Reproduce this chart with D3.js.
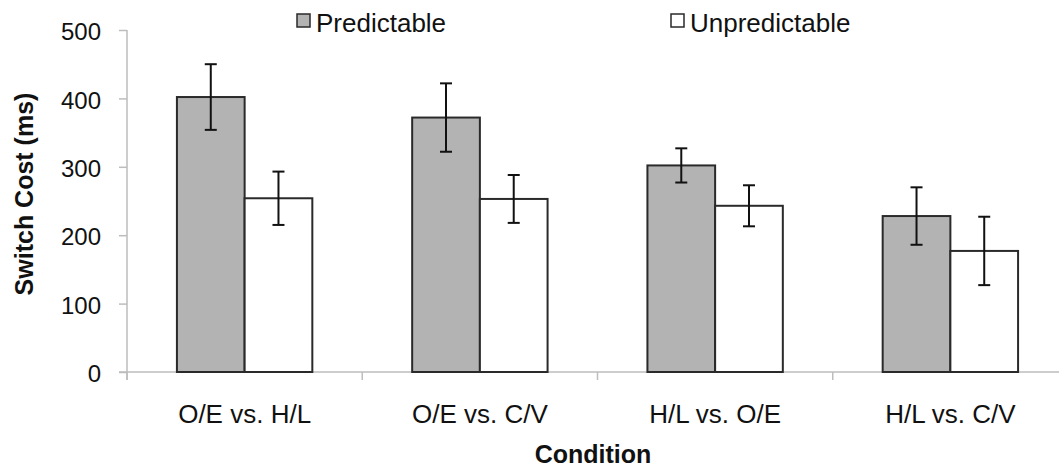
<!DOCTYPE html>
<html><head><meta charset="utf-8">
<script src="https://cdn.jsdelivr.net/npm/d3@7"></script>
<style>body{margin:0;background:#fff}svg{display:block}text{font-family:"Liberation Sans",Arial,sans-serif;fill:#111}</style>
</head><body><svg id="c" width="1059" height="468"></svg>
<script>
const categories = ["O/E vs. H/L", "O/E vs. C/V", "H/L vs. O/E", "H/L vs. C/V"];
const seriesNames = ["Predictable", "Unpredictable"];
const predictable = [402, 372, 302, 228];
const predictableErr = [48, 50, 25, 42];
const unpredictable = [254, 253, 243, 177];
const unpredictableErr = [39, 35, 30, 50];
const yTicks = [0, 100, 200, 300, 400, 500];
const colors = ["#b3b3b3", "#ffffff"];

const svg = d3.select("#c");
const mLeft = 127, mRight = 1068, mTop = 30, mBottom = 372;
const y = d3.scaleLinear().domain([0, 500]).range([mBottom, mTop]);
const x0 = d3.scaleBand().domain(categories).range([mLeft, mRight]);
const bw = x0.bandwidth();
const gap = bw - 2 * 67.7;
const x1 = d3.scaleBand().domain(seriesNames).range([gap / 2, bw - gap / 2]);

const data = categories.map((c, i) => ({
  cat: c,
  vals: [
    {s: seriesNames[0], v: predictable[i], e: predictableErr[i], col: colors[0]},
    {s: seriesNames[1], v: unpredictable[i], e: unpredictableErr[i], col: colors[1]}
  ]
}));

// Y axis
const yAxis = svg.append("g").attr("transform", `translate(${mLeft},0)`)
  .call(d3.axisLeft(y).tickValues(yTicks).tickSize(8).tickPadding(18));
yAxis.select(".domain").attr("stroke", "#bdbdbd").attr("stroke-width", 1.5)
  .attr("d", `M0,${mTop}V${mBottom + 8}`);
yAxis.selectAll(".tick line").attr("stroke", "#bdbdbd").attr("stroke-width", 1.5);
yAxis.selectAll(".tick text").style("font-size", "24px").attr("fill", "#111").attr("dy", "0.4em");

// X axis
const xAxis = svg.append("g").attr("transform", `translate(0,${mBottom})`)
  .call(d3.axisBottom(x0).tickSize(0).tickPadding(33));
xAxis.select(".domain").attr("stroke", "#bdbdbd").attr("stroke-width", 1.5)
  .attr("d", `M${mLeft - 8},0H${mRight}`);
xAxis.selectAll(".tick text").style("font-size", "26px").attr("fill", "#111");
const bounds = x0.domain().map(d => x0(d)).concat([mRight]);
xAxis.selectAll(".bt").data(bounds).enter().append("line")
  .attr("x1", d => d).attr("x2", d => d).attr("y1", 0).attr("y2", 8)
  .attr("stroke", "#bdbdbd").attr("stroke-width", 1.5);

// Bars
const g = svg.append("g").selectAll("g").data(data).enter().append("g")
  .attr("transform", d => `translate(${x0(d.cat)},0)`);
g.selectAll("rect").data(d => d.vals).enter().append("rect")
  .attr("x", d => x1(d.s)).attr("width", x1.bandwidth())
  .attr("y", d => y(d.v)).attr("height", d => y(0) - y(d.v))
  .attr("fill", d => d.col).attr("stroke", "#2a2a2a").attr("stroke-width", 2);

// Error bars
const eb = g.selectAll("g.err").data(d => d.vals).enter().append("g").attr("class", "err");
eb.append("line").attr("x1", d => x1(d.s) + x1.bandwidth() / 2).attr("x2", d => x1(d.s) + x1.bandwidth() / 2)
  .attr("y1", d => y(d.v + d.e)).attr("y2", d => y(d.v - d.e));
eb.append("line").attr("x1", d => x1(d.s) + x1.bandwidth() / 2 - 6).attr("x2", d => x1(d.s) + x1.bandwidth() / 2 + 6)
  .attr("y1", d => y(d.v + d.e)).attr("y2", d => y(d.v + d.e));
eb.append("line").attr("x1", d => x1(d.s) + x1.bandwidth() / 2 - 6).attr("x2", d => x1(d.s) + x1.bandwidth() / 2 + 6)
  .attr("y1", d => y(d.v - d.e)).attr("y2", d => y(d.v - d.e));
eb.selectAll("line").attr("stroke", "#111").attr("stroke-width", 2);

// Axis titles
svg.append("text").attr("transform", `translate(33,194) rotate(-90)`).attr("text-anchor", "middle")
  .style("font-size", "25px").style("font-weight", "bold").text("Switch Cost (ms)");
svg.append("text").attr("x", 593).attr("y", 463).attr("text-anchor", "middle")
  .style("font-size", "25px").style("font-weight", "bold").text("Condition");

// Legend
const legX = [297, 671];
const leg = svg.append("g").selectAll("g").data(seriesNames).enter().append("g")
  .attr("transform", (d, i) => `translate(${legX[i]},14)`);
leg.append("rect").attr("width", 13).attr("height", 13)
  .attr("fill", (d, i) => colors[i]).attr("stroke", "#2a2a2a").attr("stroke-width", 1.5);
leg.append("text").attr("x", 19).attr("y", 18).style("font-size", "26px").text(d => d);
</script></body></html>
